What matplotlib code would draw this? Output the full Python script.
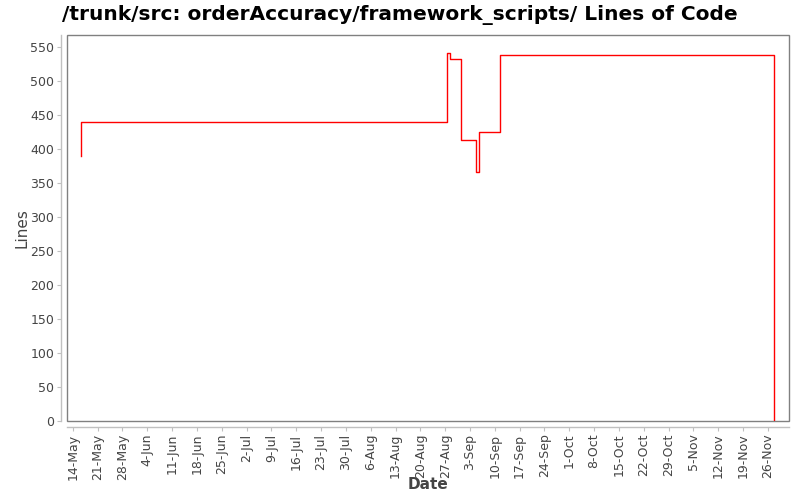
import matplotlib
matplotlib.use("Agg")
import matplotlib.pyplot as plt
import matplotlib.dates as mdates
from matplotlib.patches import Rectangle
import pandas as pd

# lines of code over time
dates = ["2007-05-16 04:00", "2007-05-16 08:00", "2007-08-27 12:00", "2007-08-27 15:00",
         "2007-08-28 10:00", "2007-08-31 12:00", "2007-09-04 14:00", "2007-09-05 12:00",
         "2007-09-11 12:00", "2007-11-27 17:00"]
lines = [390, 440, 528, 542, 532, 413, 366, 425, 539, 0]

tick_dates = pd.date_range("2007-05-14", "2007-11-26", freq="7D")

dt = pd.to_datetime(dates)

fig = plt.figure(figsize=(8, 5), dpi=100)
ax = fig.add_axes([0.0835, 0.158, 0.9025, 0.772])

ax.step(dt, lines, where="post", color="red", linewidth=1.0)

ax.set_xlim(pd.Timestamp("2007-05-12 07:00"), pd.Timestamp("2007-12-01 22:00"))
ax.set_ylim(0, 568)
ax.set_yticks(range(0, 551, 50))
ax.set_xticks(tick_dates)
ax.xaxis.set_major_formatter(mdates.DateFormatter("%-d-%b"))

# plot frame plus offset axis lines, like the original
ax.add_patch(Rectangle((0, 0), 1, 1, transform=ax.transAxes, fill=False,
                       edgecolor="#808080", linewidth=1.0, clip_on=False))
ax.spines["top"].set_visible(False)
ax.spines["right"].set_visible(False)
for side in ["left", "bottom"]:
    ax.spines[side].set_position(("outward", 4))
    ax.spines[side].set_color("#c0c0c0")
    ax.spines[side].set_linewidth(1.0)
ax.tick_params(axis="both", colors="#c0c0c0", labelcolor="#444444", labelsize=9,
               length=3, pad=2)
ax.tick_params(axis="x", labelrotation=90)

ax.set_xlabel("Date", fontsize=11, color="#444444", fontweight="bold")
ax.set_ylabel("Lines", fontsize=11, color="#444444")
ax.xaxis.set_label_coords(0.5, -0.146)
ax.yaxis.set_label_coords(-0.052, 0.5)
fig.suptitle("/trunk/src: orderAccuracy/framework_scripts/ Lines of Code",
             fontsize=14.5, fontweight="bold", x=0.5, y=0.99)

fig.savefig("out.png", dpi=100)
